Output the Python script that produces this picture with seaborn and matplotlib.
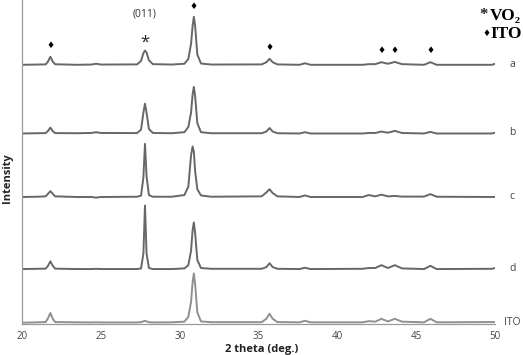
import matplotlib
matplotlib.use("Agg")
import matplotlib.pyplot as plt
import seaborn as sns
import pandas as pd
import numpy as np

# ---- data ----
two_theta = [20.0, 21.0, 21.5, 21.65, 21.8, 21.95, 22.1, 23.5, 24.4, 24.7, 25.0,
             27.3, 27.55, 27.7, 27.8, 27.9, 28.05, 28.3, 29.5,
             30.3, 30.55, 30.72, 30.82, 30.9, 30.98, 31.12, 31.35, 32.0,
             35.2, 35.5, 35.7, 35.9, 36.2, 37.6, 37.95, 38.3,
             41.6, 42.0, 42.4, 42.8, 43.2, 43.65, 44.1, 45.5, 45.9, 46.3, 49.8, 50.0]

int_a = [0.0, 0.02, 0.03, 0.25, 0.62, 0.25, 0.04, 0.0, 0.02, 0.08, 0.02,
         0.03, 0.3, 0.9, 1.1, 0.95, 0.35, 0.05, 0.02,
         0.08, 0.45, 1.6, 3.0, 3.7, 3.0, 0.8, 0.1, 0.02,
         0.03, 0.2, 0.46, 0.2, 0.03, 0.0, 0.12, 0.0,
         0.0, 0.05, 0.05, 0.2, 0.08, 0.22, 0.05, 0.0, 0.2, 0.0, 0.0, 0.08]
int_b = [0.0, 0.02, 0.03, 0.2, 0.45, 0.18, 0.03, 0.02, 0.04, 0.1, 0.04,
         0.03, 0.3, 1.6, 2.3, 1.6, 0.35, 0.04, 0.02,
         0.1, 0.5, 1.6, 3.0, 3.6, 2.9, 0.8, 0.1, 0.02,
         0.02, 0.15, 0.42, 0.15, 0.02, 0.0, 0.1, 0.0,
         0.0, 0.04, 0.04, 0.15, 0.06, 0.2, 0.04, 0.0, 0.12, 0.0, 0.0, 0.06]
int_c = [0.0, 0.02, 0.05, 0.25, 0.45, 0.25, 0.05, 0.0, 0.0, -0.05, 0.0,
         0.02, 0.1, 1.5, 4.1, 1.6, 0.15, 0.02, 0.02,
         0.15, 0.8, 3.2, 3.9, 3.5, 2.0, 0.6, 0.12, 0.02,
         0.05, 0.35, 0.6, 0.3, 0.05, 0.0, 0.12, 0.0,
         0.0, 0.15, 0.05, 0.18, 0.05, 0.08, 0.03, 0.03, 0.22, 0.02, 0.0, 0.0]
int_d = [0.0, 0.02, 0.03, 0.25, 0.6, 0.25, 0.03, 0.0, 0.0, 0.02, 0.0,
         0.0, 0.05, 1.2, 4.9, 1.2, 0.08, 0.0, 0.0,
         0.05, 0.3, 1.4, 3.0, 3.6, 2.8, 0.7, 0.08, 0.02,
         0.02, 0.15, 0.45, 0.15, 0.02, 0.0, 0.1, 0.0,
         0.02, 0.08, 0.08, 0.3, 0.08, 0.3, 0.05, 0.0, 0.25, 0.0, 0.02, 0.08]
int_ito = [0.0, 0.03, 0.05, 0.35, 0.75, 0.3, 0.05, 0.03, 0.02, 0.03, 0.02,
           0.02, 0.05, 0.1, 0.15, 0.1, 0.04, 0.02, 0.03,
           0.08, 0.45, 1.6, 3.1, 3.8, 3.0, 0.8, 0.1, 0.04,
           0.04, 0.3, 0.7, 0.3, 0.05, 0.03, 0.15, 0.03,
           0.03, 0.12, 0.08, 0.3, 0.1, 0.3, 0.08, 0.03, 0.3, 0.03, 0.05, 0.05]

samples = ["a", "b", "c", "d", "ITO"]
offsets = [20.0, 14.7, 9.8, 4.24, 0.1]
series = [int_a, int_b, int_c, int_d, int_ito]
colors = ["#676767", "#676767", "#676767", "#676767", "#909090"]

ito_peaks = [21.8, 30.9, 35.7, 42.8, 43.65, 45.9]
ito_marker_y = [21.5, 24.5, 21.3, 21.1, 21.1, 21.1]

rows = []
for s, off, vals in zip(samples, offsets, series):
    for x, v in zip(two_theta, vals):
        rows.append({"2theta": x, "I": v + off, "sample": s})
df = pd.DataFrame(rows)

# ---- figure ----
sns.set_style("white")
plt.rcParams["font.family"] = ["Open Sans", "DejaVu Sans"]
fig = plt.figure(figsize=(5.23, 3.55), dpi=100)
ax = fig.add_axes([22 / 523, 31 / 355, 473 / 523, 324 / 355])

sns.lineplot(data=df, x="2theta", y="I", hue="sample", hue_order=samples,
             palette=dict(zip(samples, colors)), linewidth=1.4, legend=False, ax=ax,
             estimator=None, sort=False)

ax.set_xlim(20, 50)
ax.set_ylim(0, 25)
ax.set_xticks(range(20, 51, 5))
ax.set_xticks(range(20, 51, 1), minor=True)
ax.set_yticks(range(0, 26, 1))
ax.set_yticklabels([])
ax.set_xlabel("")
ax.set_ylabel("")
for side in ["top", "right"]:
    ax.spines[side].set_visible(False)
for side in ["left", "bottom"]:
    ax.spines[side].set_color("#9a9a9a")
    ax.spines[side].set_linewidth(0.9)
ax.tick_params(axis="x", which="both", direction="in", length=3, color="#9a9a9a",
               labelsize=7, labelcolor="#444444", pad=5)
ax.tick_params(axis="y", which="major", direction="inout", length=4, color="#9a9a9a")
ax.patch.set_alpha(0)

# sample labels at right
for s, off in zip(samples, offsets):
    ax.text(50.9 if s != "ITO" else 50.6, off + 0.05, s, fontsize=7.5, color="#444444",
            va="center", ha="left", clip_on=False)

# peak markers
ax.text(27.8, 23.9, "(011)", fontsize=7.5, color="#333333", ha="center", va="center")
ax.text(27.8, 21.7, "*", fontsize=12, color="#222222", ha="center", va="center")
for px, py in zip(ito_peaks, ito_marker_y):
    ax.text(px, py, "\u2666", fontsize=6.5, color="black", ha="center", va="center")

# legend text
serif = ["Liberation Serif", "DejaVu Serif"]
fig.text(479 / 523, 1 - 15 / 355, "*", fontsize=12, fontweight="bold", family=serif,
         ha="left", va="center", color="#222222")
fig.text(490 / 523, 1 - 16 / 355, "VO\u2082", fontsize=12.5, fontweight="bold", family=serif,
         ha="left", va="center", color="black")
fig.text(482 / 523, 1 - 34 / 355, "\u2666", fontsize=6.5, family=["DejaVu Sans"],
         ha="left", va="center", color="black")
fig.text(490 / 523, 1 - 34 / 355, "ITO", fontsize=12.5, fontweight="bold", family=serif,
         ha="left", va="center", color="black")

# axis titles
fig.text(8 / 523, 1 - 178 / 355, "Intensity", rotation=90, fontsize=8, fontweight="bold",
         ha="center", va="center", color="#222222")
fig.text(262 / 523, 1 - 344 / 355, "2 theta (deg.)", fontsize=8, fontweight="bold",
         ha="center", va="top", color="#222222")

fig.savefig("out.png", dpi=100)
